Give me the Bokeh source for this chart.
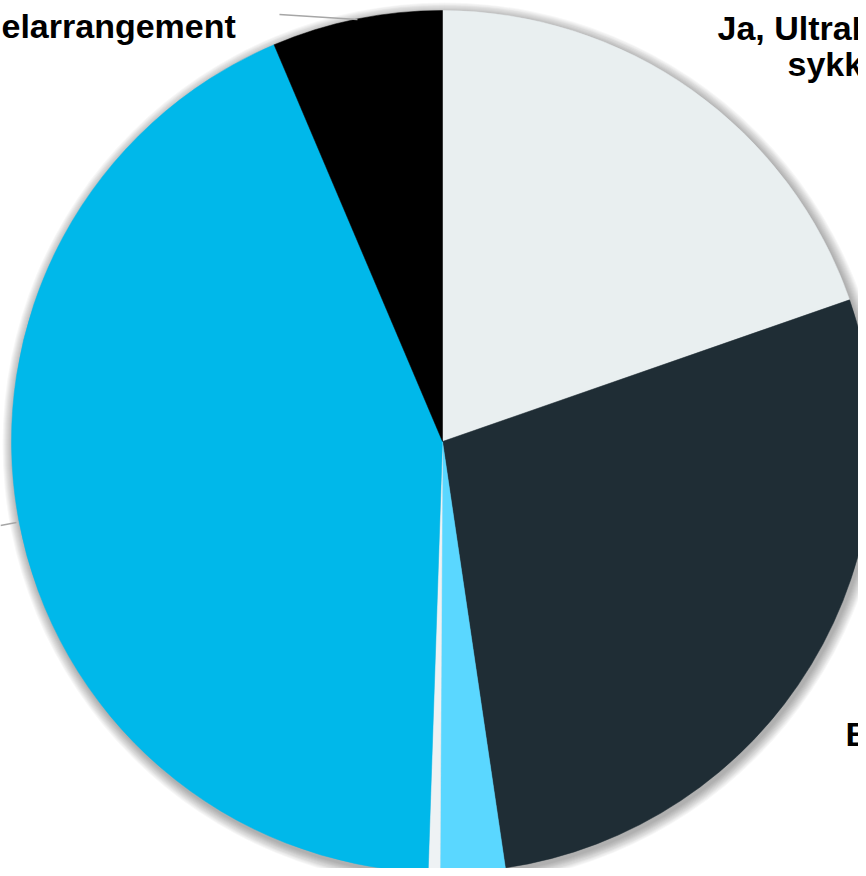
import math
from bokeh.plotting import figure
from bokeh.models import Range1d, ColumnDataSource
from bokeh.core.properties import value
from bokeh.embed import file_html
from bokeh.resources import INLINE

# ---- data (percent shares, clockwise from 12 o'clock) ----
categories = ["Ja, UltraB", "B", "Annet", "Vet ikke", "Ja, Hønefoss Rid", "elarrangement"]
shares = [19.67, 28.0, 2.42, 0.44, 43.08, 6.39]
colors = ["#E9EFF0", "#1F2D35", "#5AD7FF", "#EEF2F4", "#00B8EA", "#000000"]

W, H = 858, 868

def py(y):  # reference pixel y -> data y
    return H - y

p = figure(width=W, height=H, output_backend="svg", toolbar_location=None,
           x_range=Range1d(0, W), y_range=Range1d(0, H), min_border=0)
p.axis.visible = False
p.grid.visible = False
p.outline_line_color = None
p.background_fill_color = "white"

cx, cy, R = 442, py(441), 431

# soft shadow halo
for i in range(1, 12):
    p.circle(x=[cx + 2], y=[cy - 3], radius=R + i, fill_color="black",
             fill_alpha=0.03, line_color=None)

total = sum(shares)
starts, ends = [], []
acc = 0.0
for s in shares:
    a0 = acc / total * 2 * math.pi
    acc += s
    a1 = acc / total * 2 * math.pi
    starts.append(math.pi / 2 - a0)
    ends.append(math.pi / 2 - a1)

src = ColumnDataSource(dict(start=starts, end=ends, color=colors, cat=categories))
p.wedge(x=cx, y=cy, radius=R, start_angle="start", end_angle="end",
        direction="clock", fill_color="color", line_color="color", line_width=0.5,
        source=src)

# leader lines
p.line(x=[279, 357], y=[py(14), py(19)], line_color="#A6A6A6", line_width=1.5)
p.line(x=[0, 16], y=[py(525), py(522)], line_color="#A6A6A6", line_width=1.5)

font = value("Liberation Sans")
fs = "34px"
def label(x, y, t):
    p.text(x=[x], y=[py(y)], text=[t], text_align="left",
           text_baseline="alphabetic", text_font=font, text_font_size=fs,
           text_font_style="bold", text_color="black")

label(1, 25, "elarrangement")
label(717, 27, "Ja, UltraB")
label(787, 63, "sykk")
label(845, 733, "B")
label(40, 894, "Ja, Hønefoss Rid")

open("out.html", "w").write(file_html(p, INLINE))
